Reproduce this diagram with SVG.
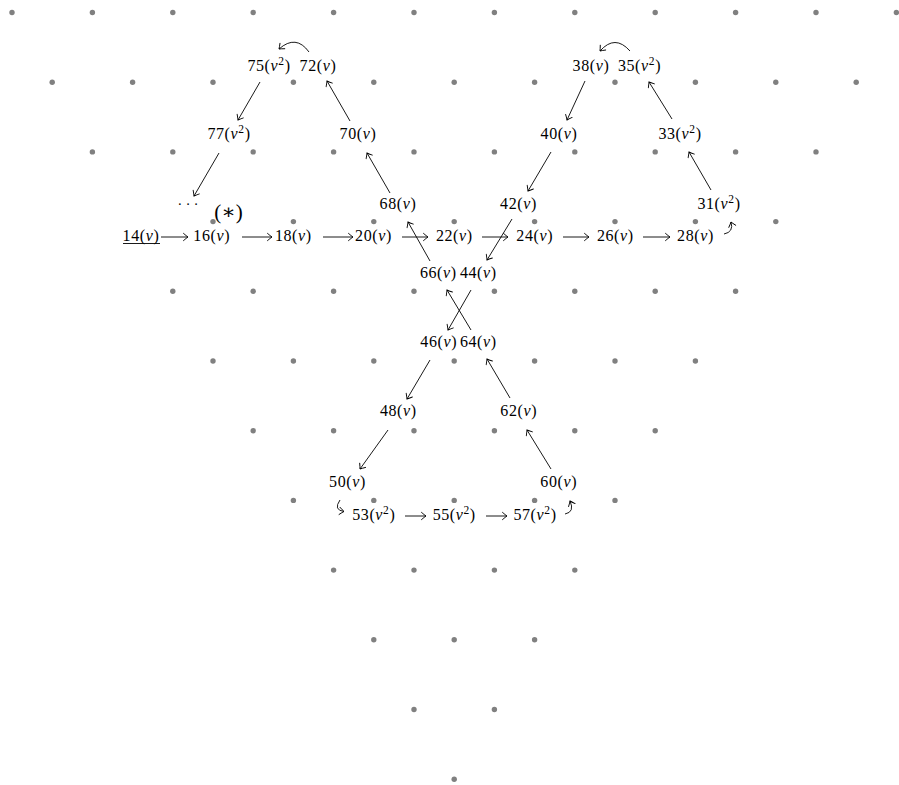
<svg xmlns="http://www.w3.org/2000/svg" width="899" height="785" viewBox="0 0 899 785">
<style>
.dot{fill:#808080}
.t{font-family:"Liberation Serif","DejaVu Serif",serif;font-size:16px;letter-spacing:0.6px;text-anchor:middle;fill:#000}
.i{font-style:italic}
.sup{font-size:11.5px}
.c{fill:none;stroke:#000;stroke-width:0.9;marker-end:url(#ah)}
</style>
<defs>
<marker id="ah" viewBox="-6 -5 8 10" refX="0" refY="0" markerWidth="8" markerHeight="10" orient="auto" markerUnits="userSpaceOnUse">
<path d="M -4.5 -3.6 Q -1.5 -1 0 0 Q -1.5 1 -4.5 3.6" fill="none" stroke="#000" stroke-width="0.9" stroke-linecap="round"/>
</marker>
</defs>
<rect width="899" height="785" fill="#fff"/>
<g id="lattice">
<circle class="dot" cx="12" cy="12.5" r="2.7"/><circle class="dot" cx="92.4" cy="12.5" r="2.7"/><circle class="dot" cx="172.8" cy="12.5" r="2.7"/><circle class="dot" cx="253.2" cy="12.5" r="2.7"/><circle class="dot" cx="333.6" cy="12.5" r="2.7"/><circle class="dot" cx="414" cy="12.5" r="2.7"/><circle class="dot" cx="494.4" cy="12.5" r="2.7"/><circle class="dot" cx="574.8" cy="12.5" r="2.7"/><circle class="dot" cx="655.2" cy="12.5" r="2.7"/><circle class="dot" cx="735.6" cy="12.5" r="2.7"/><circle class="dot" cx="816" cy="12.5" r="2.7"/><circle class="dot" cx="896.4" cy="12.5" r="2.7"/>
<circle class="dot" cx="52.2" cy="82.2" r="2.7"/><circle class="dot" cx="132.6" cy="82.2" r="2.7"/><circle class="dot" cx="213" cy="82.2" r="2.7"/><circle class="dot" cx="293.4" cy="82.2" r="2.7"/><circle class="dot" cx="373.8" cy="82.2" r="2.7"/><circle class="dot" cx="454.2" cy="82.2" r="2.7"/><circle class="dot" cx="534.6" cy="82.2" r="2.7"/><circle class="dot" cx="615" cy="82.2" r="2.7"/><circle class="dot" cx="695.4" cy="82.2" r="2.7"/><circle class="dot" cx="775.8" cy="82.2" r="2.7"/><circle class="dot" cx="856.2" cy="82.2" r="2.7"/>
<circle class="dot" cx="92.4" cy="151.9" r="2.7"/><circle class="dot" cx="172.8" cy="151.9" r="2.7"/><circle class="dot" cx="253.2" cy="151.9" r="2.7"/><circle class="dot" cx="333.6" cy="151.9" r="2.7"/><circle class="dot" cx="414" cy="151.9" r="2.7"/><circle class="dot" cx="494.4" cy="151.9" r="2.7"/><circle class="dot" cx="574.8" cy="151.9" r="2.7"/><circle class="dot" cx="655.2" cy="151.9" r="2.7"/><circle class="dot" cx="735.6" cy="151.9" r="2.7"/><circle class="dot" cx="816" cy="151.9" r="2.7"/>
<circle class="dot" cx="213" cy="221.6" r="2.7"/><circle class="dot" cx="293.4" cy="221.6" r="2.7"/><circle class="dot" cx="373.8" cy="221.6" r="2.7"/><circle class="dot" cx="454.2" cy="221.6" r="2.7"/><circle class="dot" cx="534.6" cy="221.6" r="2.7"/><circle class="dot" cx="615" cy="221.6" r="2.7"/><circle class="dot" cx="695.4" cy="221.6" r="2.7"/><circle class="dot" cx="775.8" cy="221.6" r="2.7"/>
<circle class="dot" cx="172.8" cy="291.3" r="2.7"/><circle class="dot" cx="253.2" cy="291.3" r="2.7"/><circle class="dot" cx="333.6" cy="291.3" r="2.7"/><circle class="dot" cx="414" cy="291.3" r="2.7"/><circle class="dot" cx="494.4" cy="291.3" r="2.7"/><circle class="dot" cx="574.8" cy="291.3" r="2.7"/><circle class="dot" cx="655.2" cy="291.3" r="2.7"/><circle class="dot" cx="735.6" cy="291.3" r="2.7"/>
<circle class="dot" cx="213" cy="361" r="2.7"/><circle class="dot" cx="293.4" cy="361" r="2.7"/><circle class="dot" cx="373.8" cy="361" r="2.7"/><circle class="dot" cx="454.2" cy="361" r="2.7"/><circle class="dot" cx="534.6" cy="361" r="2.7"/><circle class="dot" cx="615" cy="361" r="2.7"/><circle class="dot" cx="695.4" cy="361" r="2.7"/>
<circle class="dot" cx="253.2" cy="430.7" r="2.7"/><circle class="dot" cx="333.6" cy="430.7" r="2.7"/><circle class="dot" cx="414" cy="430.7" r="2.7"/><circle class="dot" cx="494.4" cy="430.7" r="2.7"/><circle class="dot" cx="574.8" cy="430.7" r="2.7"/><circle class="dot" cx="655.2" cy="430.7" r="2.7"/>
<circle class="dot" cx="293.4" cy="500.4" r="2.7"/><circle class="dot" cx="373.8" cy="500.4" r="2.7"/><circle class="dot" cx="454.2" cy="500.4" r="2.7"/><circle class="dot" cx="534.6" cy="500.4" r="2.7"/><circle class="dot" cx="615" cy="500.4" r="2.7"/>
<circle class="dot" cx="333.6" cy="570.1" r="2.7"/><circle class="dot" cx="414" cy="570.1" r="2.7"/><circle class="dot" cx="494.4" cy="570.1" r="2.7"/><circle class="dot" cx="574.8" cy="570.1" r="2.7"/>
<circle class="dot" cx="373.8" cy="639.8" r="2.7"/><circle class="dot" cx="454.2" cy="639.8" r="2.7"/><circle class="dot" cx="534.6" cy="639.8" r="2.7"/>
<circle class="dot" cx="414" cy="709.5" r="2.7"/><circle class="dot" cx="494.4" cy="709.5" r="2.7"/>
<circle class="dot" cx="454.2" cy="779.2" r="2.7"/>
</g>
<g id="connectors">
<path class="c" d="M 309 52 Q 296 34 279 49"/>
<path class="c" d="M 630 51 Q 615 34 600 51"/>
<path class="c" d="M 260 82 L 238 120"/>
<path class="c" d="M 219 153 L 194 196"/>
<path class="c" d="M 350 121 L 327 81"/>
<path class="c" d="M 390 193 L 367 153"/>
<path class="c" d="M 430 261 L 408 222"/>
<path class="c" d="M 585 81 L 567 120"/>
<path class="c" d="M 551 152 L 528 191"/>
<path class="c" d="M 512 219 L 487 260"/>
<path class="c" d="M 711 190 L 689 152"/>
<path class="c" d="M 672 119 L 649 82"/>
<path class="c" d="M 471 290 L 448 330"/>
<path class="c" d="M 471 330 L 447 290"/>
<path class="c" d="M 430 360 L 407 399"/>
<path class="c" d="M 388 430 L 360 469"/>
<path class="c" d="M 551 469 L 527 430"/>
<path class="c" d="M 510 398 L 487 359"/>
<path class="c" d="M 161 237 L 188 237"/>
<path class="c" d="M 242 237 L 272 237"/>
<path class="c" d="M 323 237 L 353 237"/>
<path class="c" d="M 402 237 L 428 237"/>
<path class="c" d="M 482 237 L 508 237"/>
<path class="c" d="M 563 237 L 589 237"/>
<path class="c" d="M 643 237 L 670 237"/>
<path class="c" d="M 724 234 Q 734 232 731 222"/>
<path class="c" d="M 340 500 Q 333 510 344 511.5"/>
<path class="c" d="M 405 516 L 426 516"/>
<path class="c" d="M 486 516 L 507 516"/>
<path class="c" d="M 565 514 Q 575 512 570 501"/>
</g>
<g id="n75"><text class="t" x="269" y="71">75(<tspan class="i">v</tspan><tspan class="sup" dy="-6">2</tspan><tspan dy="6">)</tspan></text></g>
<g id="n72"><text class="t" x="318" y="71">72(<tspan class="i">v</tspan>)</text></g>
<g id="n38"><text class="t" x="591" y="71">38(<tspan class="i">v</tspan>)</text></g>
<g id="n35"><text class="t" x="639.5" y="71">35(<tspan class="i">v</tspan><tspan class="sup" dy="-6">2</tspan><tspan dy="6">)</tspan></text></g>
<g id="n77"><text class="t" x="229" y="139">77(<tspan class="i">v</tspan><tspan class="sup" dy="-6">2</tspan><tspan dy="6">)</tspan></text></g>
<g id="n70"><text class="t" x="358" y="139">70(<tspan class="i">v</tspan>)</text></g>
<g id="n40"><text class="t" x="559" y="139">40(<tspan class="i">v</tspan>)</text></g>
<g id="n33"><text class="t" x="680" y="139">33(<tspan class="i">v</tspan><tspan class="sup" dy="-6">2</tspan><tspan dy="6">)</tspan></text></g>
<g id="ndots"><text class="t" x="188" y="209" style="font-size:14px;letter-spacing:0">· · ·</text></g>
<g id="star"><text class="t" x="228.5" y="219" style="font-size:21px;letter-spacing:0">(∗)</text></g>
<g id="n68"><text class="t" x="398" y="209">68(<tspan class="i">v</tspan>)</text></g>
<g id="n42"><text class="t" x="518.5" y="209">42(<tspan class="i">v</tspan>)</text></g>
<g id="n31"><text class="t" x="719" y="209">31(<tspan class="i">v</tspan><tspan class="sup" dy="-6">2</tspan><tspan dy="6">)</tspan></text></g>
<g id="n14"><text class="t" x="141" y="240.5">14(<tspan class="i">v</tspan>)</text><line x1="123" y1="243.5" x2="160" y2="243.5" stroke="#000" stroke-width="0.9"/></g>
<g id="n16"><text class="t" x="211.7" y="240.5">16(<tspan class="i">v</tspan>)</text></g>
<g id="n18"><text class="t" x="293.3" y="240.5">18(<tspan class="i">v</tspan>)</text></g>
<g id="n20"><text class="t" x="373.5" y="240.5">20(<tspan class="i">v</tspan>)</text></g>
<g id="n22"><text class="t" x="454.3" y="240.5">22(<tspan class="i">v</tspan>)</text></g>
<g id="n24"><text class="t" x="534.7" y="240.5">24(<tspan class="i">v</tspan>)</text></g>
<g id="n26"><text class="t" x="615.3" y="240.5">26(<tspan class="i">v</tspan>)</text></g>
<g id="n28"><text class="t" x="695.5" y="240.5">28(<tspan class="i">v</tspan>)</text></g>
<g id="n66"><text class="t" x="438.3" y="278">66(<tspan class="i">v</tspan>)</text></g>
<g id="n44"><text class="t" x="478.3" y="278">44(<tspan class="i">v</tspan>)</text></g>
<g id="n46"><text class="t" x="438.7" y="347">46(<tspan class="i">v</tspan>)</text></g>
<g id="n64"><text class="t" x="478.3" y="347">64(<tspan class="i">v</tspan>)</text></g>
<g id="n48"><text class="t" x="398.3" y="416">48(<tspan class="i">v</tspan>)</text></g>
<g id="n62"><text class="t" x="518.7" y="416">62(<tspan class="i">v</tspan>)</text></g>
<g id="n50"><text class="t" x="347.5" y="487">50(<tspan class="i">v</tspan>)</text></g>
<g id="n60"><text class="t" x="558.7" y="487">60(<tspan class="i">v</tspan>)</text></g>
<g id="n53"><text class="t" x="373.8" y="520">53(<tspan class="i">v</tspan><tspan class="sup" dy="-6">2</tspan><tspan dy="6">)</tspan></text></g>
<g id="n55"><text class="t" x="454.2" y="520">55(<tspan class="i">v</tspan><tspan class="sup" dy="-6">2</tspan><tspan dy="6">)</tspan></text></g>
<g id="n57"><text class="t" x="535" y="520">57(<tspan class="i">v</tspan><tspan class="sup" dy="-6">2</tspan><tspan dy="6">)</tspan></text></g>
</svg>
